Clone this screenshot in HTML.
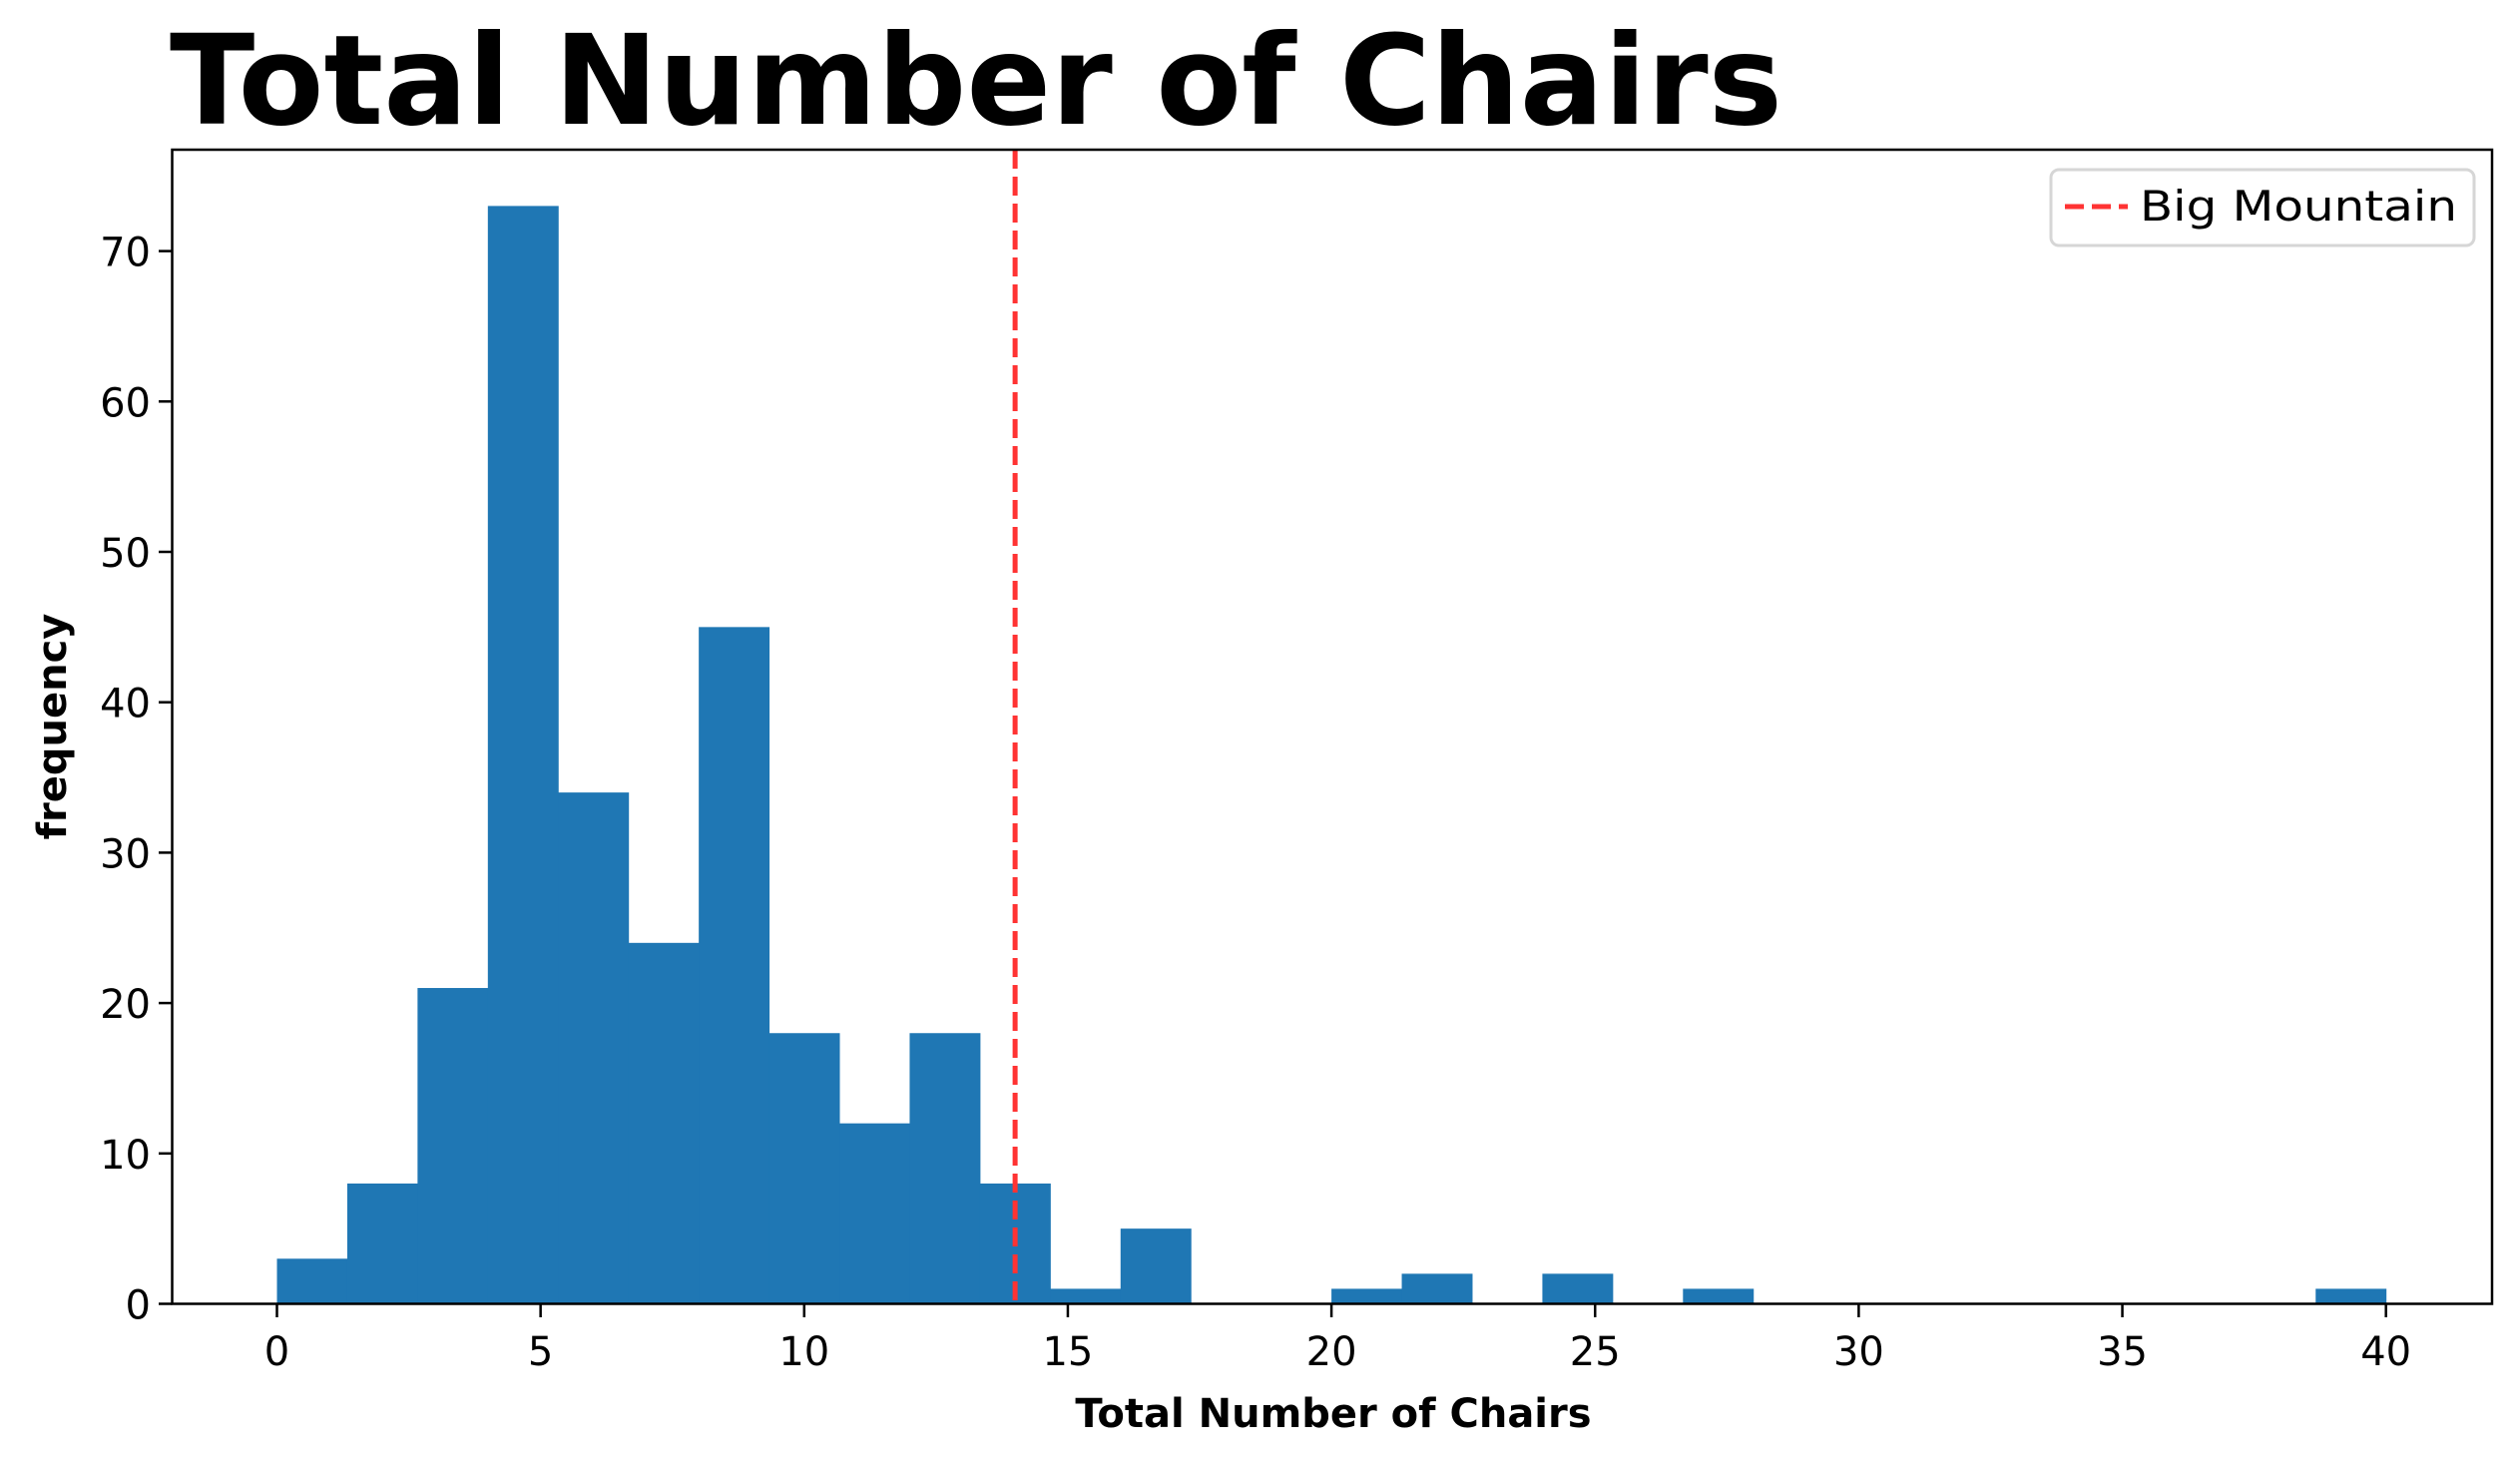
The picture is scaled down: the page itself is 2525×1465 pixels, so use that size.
<!DOCTYPE html>
<html><head><meta charset="utf-8"><style>
html,body{margin:0;padding:0;background:#fff;}
svg{display:block;font-family:"DejaVu Sans","Liberation Sans",sans-serif;}
</style></head><body>
<svg id="chart" width="2525" height="1465" viewBox="0 0 2525 1465">
<text x="170" y="124" font-size="125" font-weight="bold" fill="#000">Total Number of Chairs</text>
<g id="bars"></g>
<g id="xticks"></g>
<g id="yticks"></g>
<line id="refline" stroke="#ff3333" stroke-width="5" stroke-dasharray="19,8"/>
<rect x="172.5" y="150" width="2324.5" height="1156.5" fill="none" stroke="#000" stroke-width="2.5"/>
<text x="1336" y="1430" font-size="40" font-weight="bold" text-anchor="middle">Total Number of Chairs</text>
<text transform="translate(66,728) rotate(-90)" font-size="40" font-weight="bold" text-anchor="middle">frequency</text>
<g>
<rect x="2055" y="170" width="424" height="76" rx="8" fill="#fff" stroke="#d6d6d6" stroke-width="3"/>
<line x1="2069" y1="207" x2="2132" y2="207" stroke="#ff3333" stroke-width="5" stroke-dasharray="19,8"/>
<text x="2144" y="221" font-size="42" textLength="318" lengthAdjust="spacingAndGlyphs">Big Mountain</text>
</g>
</svg>
<script>
const counts = [3,8,21,73,34,24,45,18,12,18,8,1,5,0,0,1,2,0,2,0,1,0,0,0,0,0,0,0,0,1];
const binStart = 0;
const binEnd = 40;
const xTicks = [0,5,10,15,20,25,30,35,40];
const yTicks = [0,10,20,30,40,50,60,70];
const refValue = 14;

const NS="http://www.w3.org/2000/svg";
const X = v => 277.5 + v*52.83;
const Y = v => 1306.5 - v*15.07;
const bw = (binEnd-binStart)/counts.length;
const bars=document.getElementById('bars');
counts.forEach((c,i)=>{
  if(c<=0) return;
  const r=document.createElementNS(NS,'rect');
  const x0=X(binStart+i*bw), x1=X(binStart+(i+1)*bw);
  r.setAttribute('x',x0);r.setAttribute('width',x1-x0+0.5);
  r.setAttribute('y',Y(c));r.setAttribute('height',Y(0)-Y(c));
  r.setAttribute('fill','#1f77b4');
  
  
  bars.appendChild(r);
});
const xt=document.getElementById('xticks');
xTicks.forEach(t=>{
  const l=document.createElementNS(NS,'line');
  l.setAttribute('x1',X(t));l.setAttribute('x2',X(t));l.setAttribute('y1',1306.5);l.setAttribute('y2',1320);
  l.setAttribute('stroke','#000');l.setAttribute('stroke-width','2.5');
  
  
  xt.appendChild(l);
  const s=document.createElementNS(NS,'text');
  s.setAttribute('x',X(t));s.setAttribute('y',1368);s.setAttribute('font-size','40');s.setAttribute('text-anchor','middle');
  s.textContent=t;
  
  
  xt.appendChild(s);
});
const yt=document.getElementById('yticks');
yTicks.forEach(t=>{
  const l=document.createElementNS(NS,'line');
  l.setAttribute('x1',159);l.setAttribute('x2',172.5);l.setAttribute('y1',Y(t));l.setAttribute('y2',Y(t));
  l.setAttribute('stroke','#000');l.setAttribute('stroke-width','2.5');
  
  
  yt.appendChild(l);
  const s=document.createElementNS(NS,'text');
  s.setAttribute('x',151);s.setAttribute('y',Y(t)+15);s.setAttribute('font-size','40');s.setAttribute('text-anchor','end');
  s.textContent=t;
  
  
  yt.appendChild(s);
});
const rl=document.getElementById('refline');
rl.setAttribute('x1',X(refValue));rl.setAttribute('x2',X(refValue));
rl.setAttribute('y1',150);rl.setAttribute('y2',1306.5);
</script>
</body></html>
